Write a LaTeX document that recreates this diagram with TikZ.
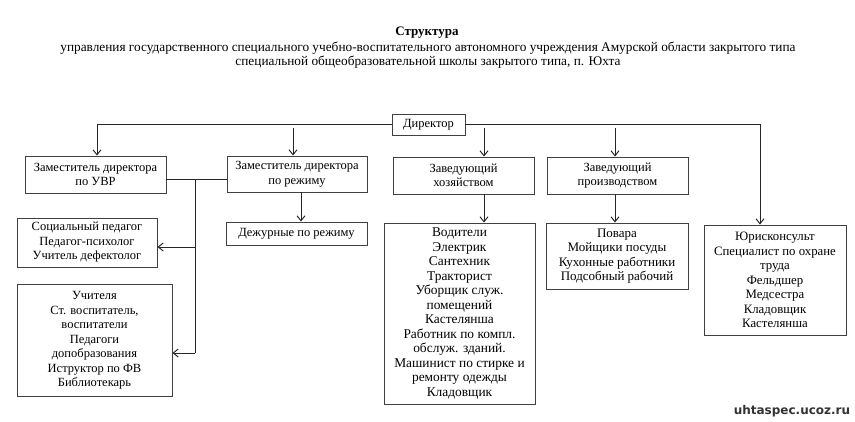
\documentclass[tikz,border=0pt]{standalone}
\usepackage{fontspec}
\setmainfont{Liberation Serif}
\newfontfamily\wmfont{DejaVu Sans}
\usetikzlibrary{arrows.meta}
\begin{document}
\begin{tikzpicture}[x=1pt,y=-1pt,
  box/.style={draw=black!75, line width=0.9pt, inner sep=0pt, align=center,
    font=\fontsize{12.5}{14.5}\selectfont},
  bigtext/.style={font=\fontsize{13.4}{14.5}\selectfont},
  midtext/.style={font=\fontsize{13}{14.5}\selectfont},
  conn/.style={draw=black!85, line width=1pt},
  arr/.style={conn, -{Straight Barb[length=5pt,width=8pt,line width=1pt]}},
  ttl/.style={inner sep=0pt, align=center}]
\useasboundingbox (0,0) rectangle (855,421);
% title
\node[ttl, font=\bfseries\fontsize{13}{14}\selectfont] (t0) at (427,33) {Структура};
\node[ttl, font=\fontsize{13.3}{14}\selectfont] (t1) at (428,48) {управления государственного специального учебно-воспитательного автономного учреждения Амурской области закрытого типа};
\node[ttl, font=\fontsize{13.3}{14}\selectfont] (t2) at (428,62) {специальной общеобразовательной школы закрытого типа, п. Юхта};
% boxes
\node[box, minimum width=73pt, minimum height=21pt] (dir) at (428.5,124.5) {Директор};
\node[box, minimum width=141pt, minimum height=37pt] (uvr) at (95.5,174.5) {Заместитель директора\\по УВР};
\node[box, minimum width=140pt, minimum height=36pt] (rez) at (297,174) {Заместитель директора\\по режиму};
\node[box, minimum width=141pt, minimum height=37pt] (hoz) at (463.5,175.5) {Заведующий\\хозяйством};
\node[box, minimum width=141pt, minimum height=37pt] (proiz) at (617.5,175.5) {Заведующий\\производством};
\node[box, minimum width=140pt, minimum height=49pt] (soc) at (87,242.5) {Социальный педагог\\Педагог-психолог\\Учитель дефектолог};
\node[box, minimum width=155pt, minimum height=112pt] (uch) at (94.5,340.5) {Учителя\\Ст. воспитатель,\\воспитатели\\Педагоги\\допобразования\\Иструктор по ФВ\\Библиотекарь};
\node[box, minimum width=141pt, minimum height=23pt] (dez) at (296.5,233.5) {Дежурные по режиму};
\node[box, bigtext, minimum width=151pt, minimum height=181pt] (vod) at (459.5,313.5) {Водители\\Электрик\\Сантехник\\Тракторист\\Уборщик служ.\\помещений\\Кастелянша\\Работник по компл.\\обслуж. зданий.\\Машинист по стирке и\\ремонту одежды\\Кладовщик};
\node[box, midtext, minimum width=142pt, minimum height=66pt] (pov) at (617,256) {Повара\\Мойщики посуды\\Кухонные работники\\Подсобный рабочий};
\node[box, font=\fontsize{12.8}{14.5}\selectfont, minimum width=142pt, minimum height=110pt] (jur) at (775,280) {Юрисконсульт\\Специалист по охране\\труда\\Фельдшер\\Медсестра\\Кладовщик\\Кастелянша};
% helper coordinates
\coordinate (bR) at (760,125);
\coordinate (s1) at (293,128);
\coordinate (s2) at (484,128);
\coordinate (s3) at (615,128);
\coordinate (j1) at (195,179);
\coordinate (j2) at (195,247);
\coordinate (j3) at (195,353);
\coordinate (d1) at (301,192);
\coordinate (h1) at (484,194);
\coordinate (p1) at (615,194);
% connectors
\draw[arr] (dir.west) -| (uvr.north -| 97,0);
\draw[arr] (dir.east) -| (bR |- jur.north);
\draw[arr] (s1) -- (s1 |- rez.north);
\draw[arr] (s2) -- (s2 |- hoz.north);
\draw[arr] (s3) -- (s3 |- proiz.north);
\draw[conn] (uvr.east |- j1) -- (rez.west |- j1);
\draw[conn] (j1) -- (j3);
\draw[arr] (j2) -- (soc.east |- j2);
\draw[arr] (j3) -- (uch.east |- j3);
\draw[arr] (d1 |- rez.south) -- (d1 |- dez.north);
\draw[arr] (h1 |- hoz.south) -- (h1 |- vod.north);
\draw[arr] (p1 |- proiz.south) -- (p1 |- pov.north);
% watermark
\node[inner sep=0pt, font=\wmfont\bfseries\fontsize{12}{13}\selectfont, text=black!80] (wm) at (792,411) {uhtaspec.ucoz.ru};
\end{tikzpicture}
\end{document}
